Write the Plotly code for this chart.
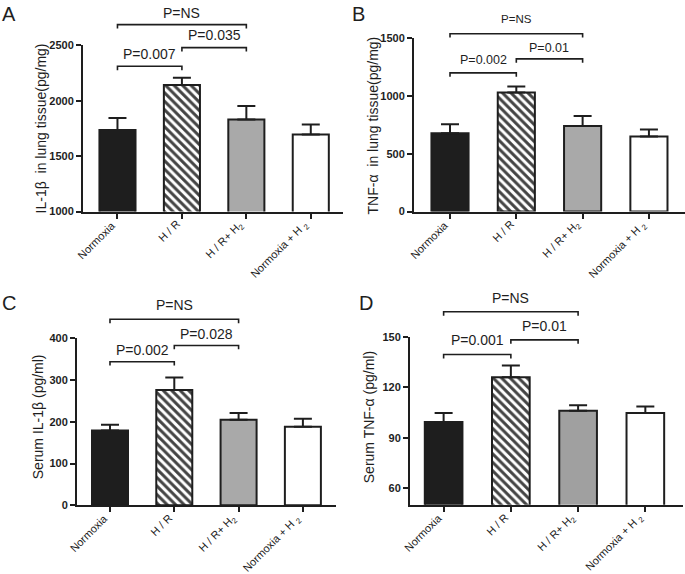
import plotly.graph_objects as go

W, H = 685, 574

groups = ["Normoxia", "H / R", "H / R+ H<sub>2</sub>", "Normoxia + H <sub>2</sub>"]

# panel A - IL-1b in lung tissue
il1b_lung = [1735, 2140, 1830, 1695]
il1b_lung_err = [108, 66, 122, 90]
# panel B - TNF-a in lung tissue
tnf_lung = [678, 1031, 740, 650]
tnf_lung_err = [78, 51, 87, 61]
# panel C - serum IL-1b
il1b_serum = [179, 276, 205, 188]
il1b_serum_err = [14, 30, 16, 19]
# panel D - serum TNF-a
tnf_serum = [99.3, 126.1, 106.1, 104.7]
tnf_serum_err = [5.4, 7.0, 3.3, 3.9]

pvals_A = ["P=0.007", "P=0.035", "P=NS"]
pvals_B = ["P=0.002", "P=0.01", "P=NS"]
pvals_C = ["P=0.002", "P=0.028", "P=NS"]
pvals_D = ["P=0.001", "P=0.01", "P=NS"]

FONT = "Liberation Sans, Arial, sans-serif"
INK = "#1e1e1e"


def py(p):
    # pixel row -> paper fraction
    return 1 - p / H


def px(p):
    return p / W


panels = [
    dict(vals=il1b_lung, err=il1b_lung_err, pv=pvals_A, lab="A", lab_xy=(8.5, 8),
         title="IL-1β  in lung tissue(pg/mg)", title_xy=(41, 125),
         xd=(83, 343), yd=(40, 210), xr=[-0.535, 3.5], yr=[1000, 2500],
         tv=[1000, 1500, 2000, 2500], gray="#a9a9a9", pfont=14, nsfont=14,
         br=[(0, 1, 61.5, 49), (1, 2, 42.5, 30), (0, 2, 19, 7.5)]),
    dict(vals=tnf_lung, err=tnf_lung_err, pv=pvals_B, lab="B", lab_xy=(358.5, 8),
         title="TNF-α  in lung tissue(pg/mg)", title_xy=(373, 122),
         xd=(414, 685), yd=(33, 210), xr=[-0.543, 3.544], yr=[0, 1500],
         tv=[0, 500, 1000, 1500], gray="#a9a9a9", pfont=12.5, nsfont=11.5,
         br=[(0, 1, 68.3, 55), (1, 2, 54, 42.5), (0, 2, 28.3, 13)]),
    dict(vals=il1b_serum, err=il1b_serum_err, pv=pvals_C, lab="C", lab_xy=(8.5, 303),
         title="Serum IL-1β (pg/ml)", title_xy=(38, 420),
         xd=(77, 336), yd=(339.3, 510), xr=[-0.513, 3.515], yr=[0, 400],
         tv=[0, 100, 200, 300, 400], gray="#a9a9a9", pfont=14, nsfont=14,
         br=[(0, 1, 363.3, 351.5), (1, 2, 346.7, 334.5), (0, 2, 320, 305.5)]),
    dict(vals=tnf_serum, err=tnf_serum_err, pv=pvals_D, lab="D", lab_xy=(365.5, 303),
         title="Serum TNF-α (pg/ml)", title_xy=(369, 420),
         xd=(410, 683), yd=(338.3, 509.3), xr=[-0.5, 3.56], yr=[50, 150],
         tv=[60, 90, 120, 150], gray="#a0a0a0", pfont=14, nsfont=14,
         br=[(0, 1, 356, 341), (1, 2, 341, 326.5), (0, 2, 312.3, 298.5)]),
]

fig = go.Figure()
shapes = []
annotations = []

for i, p in enumerate(panels):
    n = "" if i == 0 else str(i + 1)
    xa, ya = "x" + n, "y" + n
    fig.add_trace(go.Bar(
        x=list(range(len(groups))), y=p["vals"], xaxis=xa, yaxis=ya,
        width=0.56,
        marker=dict(
            color=[INK, "white", p["gray"], "white"],
            line=dict(color=INK, width=2),
            pattern=dict(shape=["", "\\", "", ""], fgcolor="#000000", bgcolor="white",
                         fgopacity=1, size=6, solidity=0.5),
        ),
        error_y=dict(type="data", array=p["err"], arrayminus=[0] * 4, symmetric=False,
                     color=INK, thickness=2, width=9),
        showlegend=False, hoverinfo="skip",
    ))
    fig.layout["xaxis" + n] = dict(
        domain=[px(p["xd"][0]), px(p["xd"][1])], anchor=ya, range=p["xr"],
        tickvals=list(range(len(groups))), showticklabels=False,
        showline=True, linecolor=INK, linewidth=2, ticks="outside", ticklen=5,
        tickwidth=2, tickcolor=INK, showgrid=False, zeroline=False, fixedrange=True,
    )
    fig.layout["yaxis" + n] = dict(
        domain=[py(p["yd"][1]), py(p["yd"][0])], anchor=xa, range=p["yr"],
        tickvals=p["tv"], tickfont=dict(family=FONT, size=11, color=INK, weight="bold"),
        showline=True, linecolor=INK, linewidth=2, ticks="outside", ticklen=5,
        tickwidth=2, tickcolor=INK, showgrid=False, zeroline=False, fixedrange=True,
    )
    # rotated category labels, hung from the tick marks
    for k, g in enumerate(groups):
        annotations.append(dict(x=k, y=py(p["yd"][1] + 4), xref=xa, yref="paper",
                                text=g, textangle=-45, showarrow=False,
                                xanchor="right", yanchor="top", xshift=3,
                                font=dict(family=FONT, size=11, color="#222")))
    # significance brackets
    for j, (a, b, yl, yt) in enumerate(p["br"]):
        path = "M %s,%s L %s,%s L %s,%s L %s,%s" % (a, py(yl + 4), a, py(yl), b, py(yl), b, py(yl + 4))
        shapes.append(dict(type="path", path=path, xref=xa, yref="paper",
                           line=dict(color=INK, width=1.6)))
        annotations.append(dict(x=(a + b) / 2, y=py(yt), xref=xa, yref="paper",
                                text=p["pv"][j], showarrow=False, yanchor="middle",
                                font=dict(family=FONT, size=p["nsfont"] if j == 2 else p["pfont"],
                                          color=INK)))
    annotations.append(dict(x=px(p["lab_xy"][0]), y=py(p["lab_xy"][1]), xref="paper", yref="paper",
                            text=p["lab"], showarrow=False, xanchor="center", yanchor="middle",
                            font=dict(family=FONT, size=20, color=INK)))
    annotations.append(dict(x=px(p["title_xy"][0]), y=py(p["title_xy"][1]), xref="paper", yref="paper",
                            text=p["title"], textangle=-90, showarrow=False,
                            xanchor="center", yanchor="middle",
                            font=dict(family=FONT, size=14, color=INK)))

fig.update_layout(
    width=W, height=H, margin=dict(l=0, r=0, t=0, b=0),
    paper_bgcolor="white", plot_bgcolor="white",
    shapes=shapes, annotations=annotations,
)

# page body has a default 8px margin; drop it so the figure fills the window
fig.write_html("out.html", config={"displayModeBar": False},
               post_script="document.body.style.margin='0';")
